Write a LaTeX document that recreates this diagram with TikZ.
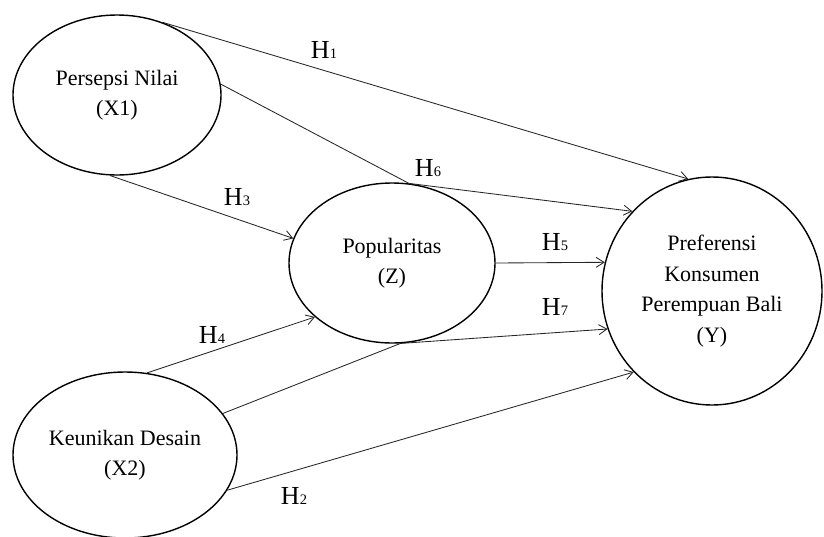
\documentclass[tikz,border=0pt]{standalone}
\usepackage{fontspec}
\setmainfont{Liberation Serif}
\usetikzlibrary{shapes, arrows.meta}
\newcommand{\hyp}[1]{H{\fontsize{14.5}{14.5}\selectfont #1}}

\begin{document}
\begin{tikzpicture}[x=1pt, y=-1pt,
        var/.style={draw, ellipse, line width=1.4pt, inner sep=0pt, align=center, font=\fontsize{22}{30.5}\selectfont},
        arrow/.style={-{Straight Barb[length=8pt, width=10pt]}, line width=0.85pt, black!85},
        hlabel/.style={font=\fontsize{26}{28}\selectfont}
    ]
        \useasboundingbox (0,0) rectangle (824,536);

        % Variables
        \node[var, minimum width=208pt, minimum height=160pt] (x1) at (117,95) {Persepsi Nilai\\ (X1)};
        \node[var, minimum width=206pt, minimum height=160pt] (z) at (392,263) {Popularitas\\ (Z)};
        \node[var, minimum width=224pt, minimum height=166pt] (x2) at (125,455) {Keunikan Desain\\ (X2)};
        \node[var, minimum width=220pt, minimum height=228pt] (y) at (712,291) {Preferensi\\ Konsumen\\ Perempuan Bali\\ (Y)};

        % Paths
        \draw[arrow] (x1.58) -- (y.102);
        \draw[arrow] (x1.6) -- (z.78) -- (y.135);
        \draw[arrow] (x1.265) -- (z.166);
        \draw[arrow] (z.east) -- (y.165);
        \draw[arrow] (x2.23) -- (z.276) -- (y.200);
        \draw[arrow] (x2.75) -- (z.215);
        \draw[arrow] (x2.341) -- (y.226);

        % Hypotheses
        \node[hlabel] (h1) at (324,50) {\hyp{1}};
        \node[hlabel] (h2) at (294,496) {\hyp{2}};
        \node[hlabel] (h3) at (237,197) {\hyp{3}};
        \node[hlabel] (h4) at (212,335) {\hyp{4}};
        \node[hlabel] (h5) at (555,242) {\hyp{5}};
        \node[hlabel] (h6) at (428,168) {\hyp{6}};
        \node[hlabel] (h7) at (555,307) {\hyp{7}};
\end{tikzpicture}
\end{document}
